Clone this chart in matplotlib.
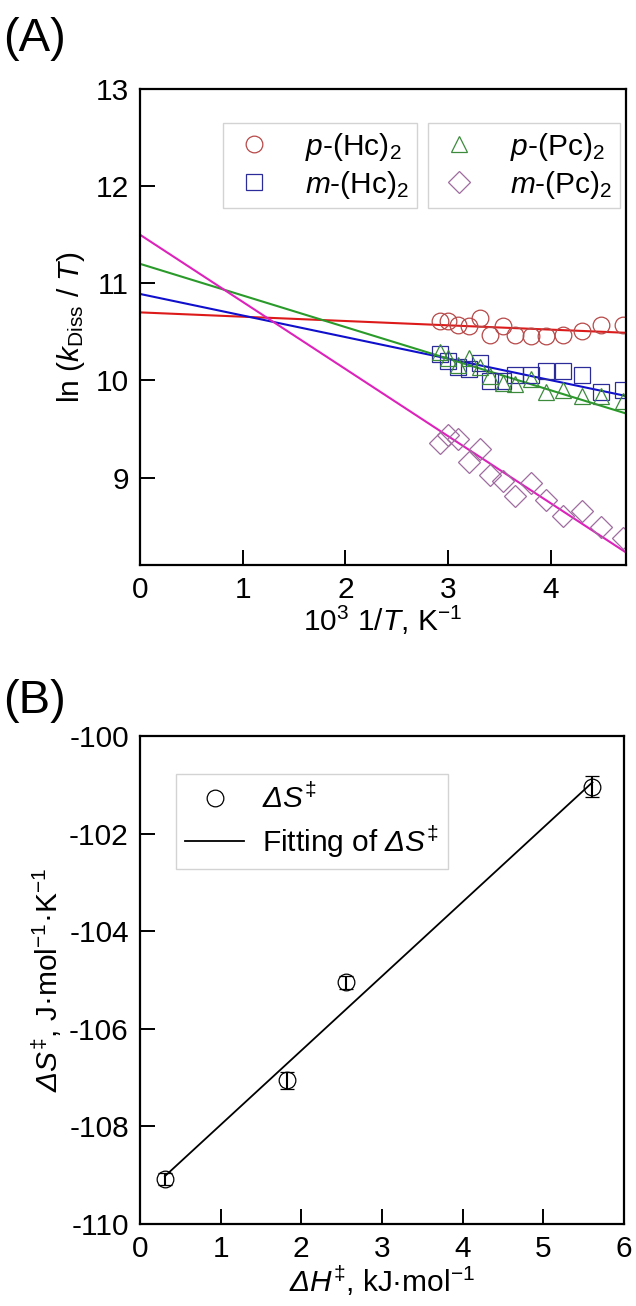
import numpy as np
import matplotlib
matplotlib.use("Agg")
from matplotlib import pyplot as plt
from matplotlib.lines import Line2D

plt.rcParams['font.family'] = ['Liberation Sans', 'DejaVu Sans']
plt.rcParams['mathtext.fontset'] = 'custom'
plt.rcParams['mathtext.rm'] = 'Liberation Sans'
plt.rcParams['mathtext.it'] = 'Liberation Sans:italic'
# sf slot used for an italic Delta (mathtext keeps Greek capitals upright in "it")
plt.rcParams['mathtext.sf'] = 'Liberation Sans:italic'
plt.rcParams['axes.unicode_minus'] = False

# ---- panel A data: ln(k/T) vs 10^3/T ----
inv_t = [2.92, 3.00, 3.10, 3.20, 3.31, 3.41, 3.53, 3.65, 3.81, 3.95, 4.12, 4.30, 4.49, 4.70]
p_hc = [10.61, 10.61, 10.57, 10.56, 10.64, 10.47, 10.56, 10.47, 10.46, 10.46, 10.47, 10.51, 10.57, 10.57]
m_hc = [10.27, 10.20, 10.14, 10.12, 10.18, 9.99, 9.99, 10.06, 10.06, 10.10, 10.10, 10.06, 9.88, 9.90]
p_pc = [10.29, 10.23, 10.16, 10.23, 10.14, 10.05, 9.97, 9.96, 10.01, 9.88, 9.90, 9.84, 9.84, 9.79]
m_pc = [9.36, 9.44, 9.40, 9.16, 9.29, 9.03, 8.96, 8.81, 8.94, 8.77, 8.60, 8.66, 8.49, 8.38]

# fitted lines, read at both ends of the axis
fit_x = [0.0, 4.73]
fit_p_hc = [10.70, 10.49]
fit_m_hc = [10.89, 9.84]
fit_p_pc = [11.20, 9.66]
fit_m_pc = [11.50, 8.23]

# ---- panel B data: dS vs dH ----
dh = [0.31, 1.82, 2.56, 5.61]
ds = [-109.08, -107.06, -105.05, -101.04]
ds_err = [0.12, 0.18, 0.13, 0.22]
fit_dh = [0.31, 5.61]
fit_ds = [-109.02, -100.95]

DS = r'$\mathsf{Δ}\mathit{S}^{‡}$'
DH = r'$\mathsf{Δ}\mathit{H}^{‡}$'

fig = plt.figure(figsize=(6.36, 13.06), dpi=100)
ax1 = fig.add_axes([0.220, 0.5674, 0.764, 0.3645])
ax2 = fig.add_axes([0.220, 0.0628, 0.761, 0.3737])

fs = 21.5
mk = dict(linestyle='none', markerfacecolor='none', markeredgewidth=0.9)

ax1.plot(fit_x, fit_p_hc, color='#dd1a1a', lw=1.5)
ax1.plot(fit_x, fit_m_hc, color='#1010cc', lw=1.5)
ax1.plot(fit_x, fit_p_pc, color='#2a9a2a', lw=1.5)
ax1.plot(fit_x, fit_m_pc, color='#dd22bb', lw=1.5)

h1, = ax1.plot(inv_t, p_hc, marker='o', markersize=12, markeredgecolor='#b84848', **mk)
h2, = ax1.plot(inv_t, m_hc, marker='s', markersize=11.5, markeredgecolor='#2b2b9a', **mk)
h3, = ax1.plot(inv_t, p_pc, marker='^', markersize=12, markeredgecolor='#3d8a3d', **mk)
h4, = ax1.plot(inv_t, m_pc, marker='D', markersize=11, markeredgecolor='#a06ca0', **mk)

ax1.set_xlim(0, 4.73)
ax1.set_ylim(8.1, 13)
ax1.set_xticks([0, 1, 2, 3, 4])
ax1.set_yticks([9, 10, 11, 12, 13])
ax1.set_xlabel(r'10$^3$ 1/$\mathit{T}$, K$^{-1}$', fontsize=fs, labelpad=0)
ax1.set_ylabel(r'ln ($\mathit{k}_{\rm Diss}$ / $\mathit{T}$)', fontsize=fs, labelpad=6)

leg_kw = dict(fontsize=fs, frameon=True, fancybox=False, edgecolor='#c8c8c8',
              handlelength=1.6, handletextpad=0.9, labelspacing=0.2,
              borderpad=0.25, borderaxespad=0)
leg1 = ax1.legend([h1, h2], [r'$\mathit{p}$-(Hc)$_2$', r'$\mathit{m}$-(Hc)$_2$'],
                  loc='upper left', bbox_to_anchor=(0.171, 0.928), **leg_kw)
leg1.get_frame().set_linewidth(1.0)
ax1.add_artist(leg1)
leg2 = ax1.legend([h3, h4], [r'$\mathit{p}$-(Pc)$_2$', r'$\mathit{m}$-(Pc)$_2$'],
                  loc='upper left', bbox_to_anchor=(0.593, 0.928), **leg_kw)
leg2.get_frame().set_linewidth(1.0)

fit_line, = ax2.plot(fit_dh, fit_ds, color='black', lw=1.3)
ax2.errorbar(dh, ds, yerr=ds_err, fmt='o', markersize=12, markerfacecolor='none',
             markeredgecolor='black', markeredgewidth=0.9, ecolor='black',
             elinewidth=1.5, capsize=5, capthick=1.5)
ax2.set_xlim(0, 6)
ax2.set_ylim(-110, -100)
ax2.set_xticks([0, 1, 2, 3, 4, 5, 6])
ax2.set_yticks([-110, -108, -106, -104, -102, -100])
ax2.set_xlabel(DH + r', kJ·mol$^{-1}$', fontsize=fs, labelpad=0)
ax2.set_ylabel(DS + r', J·mol$^{-1}$·K$^{-1}$', fontsize=fs, labelpad=4)

pt_handle = Line2D([], [], linestyle='none', marker='o', markersize=12,
                   markerfacecolor='none', markeredgecolor='black', markeredgewidth=0.9)
leg3 = ax2.legend([pt_handle, fit_line], [DS, 'Fitting of ' + DS],
                  loc='upper left', bbox_to_anchor=(0.074, 0.921),
                  fontsize=fs, frameon=True, fancybox=False, edgecolor='#c8c8c8',
                  handlelength=2.0, handletextpad=0.6, labelspacing=0.3,
                  borderpad=0.3, borderaxespad=0)
leg3.get_frame().set_linewidth(1.0)

for ax in (ax1, ax2):
    for s in ax.spines.values():
        s.set_linewidth(1.6)
    ax.tick_params(direction='in', length=11, width=1.4, labelsize=fs, pad=8,
                   top=False, right=False)

fig.text(0.005, 0.970, '(A)', fontsize=34, va='center', ha='left')
fig.text(0.005, 0.463, '(B)', fontsize=34, va='center', ha='left')

fig.savefig('out.png', dpi=100)
